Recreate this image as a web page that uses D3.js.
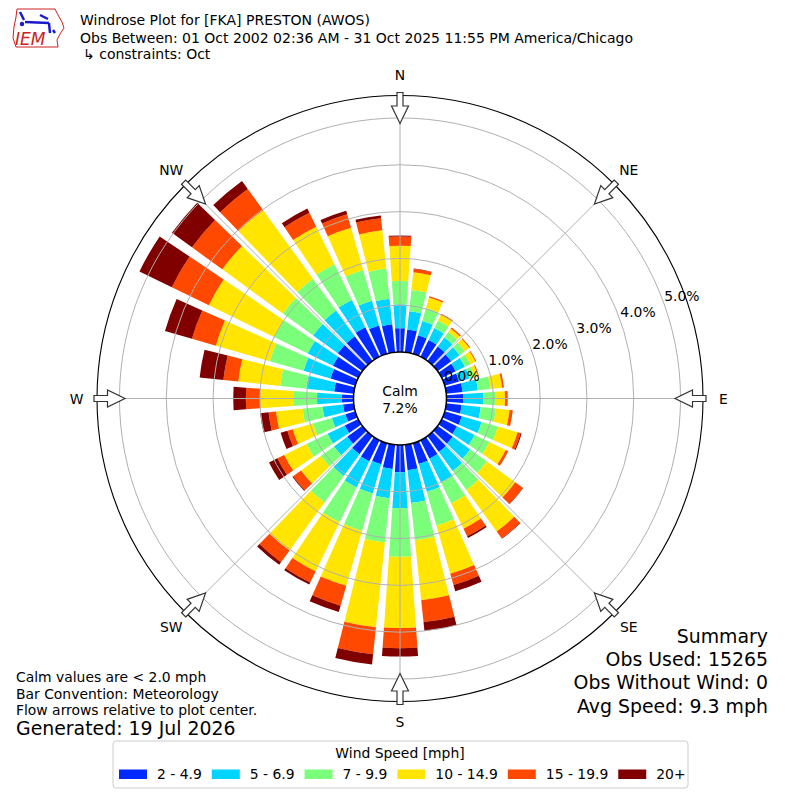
<!DOCTYPE html>
<html><head><meta charset="utf-8">
<script src="https://cdn.jsdelivr.net/npm/d3@7"></script>
<style>body{margin:0;background:#fff} svg{display:block} text{font-family:"DejaVu Sans",sans-serif}</style>
</head><body><svg id="c" width="800" height="800"></svg>
<script>
// ---- data (percent of observations per direction / speed bin) ----
const directions = d3.range(0, 360, 10);
const speedBins = ["2 - 4.9", "5 - 6.9", "7 - 9.9", "10 - 14.9", "15 - 19.9", "20+"];
const binColors = ["#002aff", "#00d4ff", "#7bff7b", "#ffe500", "#ff4900", "#800000"];
const pct2to5   = [0.51,0.49,0.41,0.40,0.38,0.36,0.33,0.32,0.35,0.36,0.33,0.38,0.36,0.40,0.42,0.44,0.46,0.55,0.58,0.52,0.47,0.50,0.48,0.40,0.32,0.22,0.23,0.25,0.42,0.55,0.60,0.65,0.65,0.70,0.63,0.60];
const pct5to7   = [0.51,0.39,0.32,0.28,0.24,0.22,0.22,0.23,0.33,0.43,0.41,0.44,0.42,0.46,0.50,0.56,0.62,0.70,0.77,0.63,0.65,0.62,0.57,0.35,0.41,0.30,0.44,0.53,0.60,0.60,0.60,0.65,0.68,0.65,0.55,0.55];
const pct7to10  = [0.50,0.46,0.29,0.18,0.14,0.14,0.13,0.11,0.27,0.25,0.33,0.36,0.35,0.44,0.50,0.50,0.75,0.80,1.04,0.95,0.83,0.83,0.70,0.35,0.50,0.42,0.43,0.51,0.56,0.75,0.80,0.80,0.84,0.85,0.68,0.65];
const pct10to15 = [0.75,0.38,0.23,0.14,0.09,0.12,0.12,0.08,0.25,0.21,0.29,0.44,0.39,0.75,1.10,0.60,1.07,1.29,1.52,1.82,1.22,1.17,1.27,0.52,0.53,0.45,0.57,0.71,0.90,1.20,1.55,1.60,1.81,0.89,0.94,0.82];
const pct15to20 = [0.20,0.07,0.03,0.02,0.03,0.02,0.02,0.02,0.04,0.06,0.07,0.07,0.06,0.20,0.18,0.18,0.25,0.47,0.43,0.58,0.44,0.26,0.31,0.21,0.16,0.12,0.16,0.30,0.32,0.53,0.88,0.80,0.56,0.33,0.30,0.26];
const pct20plus = [0.02,0.01,0.00,0.00,0.00,0.00,0.00,0.00,0.00,0.00,0.00,0.02,0.00,0.01,0.01,0.04,0.14,0.19,0.18,0.22,0.14,0.05,0.07,0.02,0.20,0.15,0.18,0.27,0.51,0.60,0.77,0.53,0.21,0.10,0.08,0.06];
const ringTicks = [0, 1, 2, 3, 4, 5];
const compass = [["N",0],["NE",45],["E",90],["SE",135],["S",180],["SW",225],["W",270],["NW",315]];
const calmPct = "7.2%";
const titleLines = ["Windrose Plot for [FKA] PRESTON (AWOS)",
  "Obs Between: 01 Oct 2002 02:36 AM - 31 Oct 2025 11:55 PM America/Chicago",
  "\u21b3 constraints: Oct"];
const noteLines = ["Calm values are < 2.0 mph", "Bar Convention: Meteorology", "Flow arrows relative to plot center."];
const generated = "Generated: 19 Jul 2026";
const summaryLines = ["Summary", "Obs Used: 15265", "Obs Without Wind: 0", "Avg Speed: 9.3 mph"];

// ---- layout ----
const svg = d3.select("#c");
const cx = 400, cy = 398.5;
const r = d3.scaleLinear().domain([0, 5.48]).range([46.5, 303]);
const rad = d => d * Math.PI / 180;
const g = svg.append("g").attr("transform", `translate(${cx},${cy})`);

const rows = directions.map((d, i) => ({dir: d, b0: pct2to5[i], b1: pct5to7[i], b2: pct7to10[i], b3: pct10to15[i], b4: pct15to20[i], b5: pct20plus[i]}));
const keys = ["b0","b1","b2","b3","b4","b5"];
const series = d3.stack().keys(keys)(rows);
const half = 4;
const arc = d3.arc()
  .innerRadius(d => r(d[0])).outerRadius(d => r(d[1]))
  .startAngle(d => rad(d.data.dir - half)).endAngle(d => rad(d.data.dir + half));

g.selectAll("g.ser").data(series).join("g").attr("fill", (s, i) => binColors[i])
  .selectAll("path").data(s => s.filter(d => d[1] - d[0] > 0)).join("path").attr("d", arc);

// grid (drawn over bars)
g.selectAll("circle.ring").data(ringTicks.slice(1)).join("circle")
  .attr("r", d => r(d)).attr("fill", "none").attr("stroke", "#b0b0b0").attr("stroke-width", 1);
g.selectAll("line.spoke").data(compass).join("line")
  .attr("x1", 0).attr("y1", 0)
  .attr("x2", d => r(5.48) * Math.sin(rad(d[1]))).attr("y2", d => -r(5.48) * Math.cos(rad(d[1])))
  .attr("stroke", "#b0b0b0").attr("stroke-width", 1);
g.append("circle").attr("r", r(5.48)).attr("fill", "none").attr("stroke", "#000").attr("stroke-width", 1.1);

// calm circle
g.append("circle").attr("r", r(0)).attr("fill", "#fff").attr("stroke", "#000").attr("stroke-width", 1.5);
g.append("text").attr("x", 0).attr("y", -3).attr("text-anchor", "middle").attr("font-size", 13.9).text("Calm");
g.append("text").attr("x", 0).attr("y", 14).attr("text-anchor", "middle").attr("font-size", 13.9).text(calmPct);

// ring labels
const la = rad(70);
g.selectAll("text.rl").data(ringTicks).join("text")
  .attr("x", d => (r(d) + 19.5) * Math.sin(la)).attr("y", d => -(r(d) + 19.5) * Math.cos(la))
  .attr("dy", "0.36em").attr("text-anchor", "middle").attr("font-size", 13.9)
  .text(d => d.toFixed(1) + "%");

// compass labels
g.selectAll("text.cl").data(compass).join("text")
  .attr("x", d => 323.5 * Math.sin(rad(d[1]))).attr("y", d => -323.5 * Math.cos(rad(d[1])))
  .attr("dy", "0.36em").attr("text-anchor", "middle").attr("font-size", 13.9).text(d => d[0]);

// flow arrows
const arrowPts = [[306,-3],[292.5,-3],[292.5,-8.5],[275,0],[292.5,8.5],[292.5,3],[306,3]];
g.selectAll("polygon.arr").data(compass).join("polygon")
  .attr("points", d => {
    const t = rad(d[1]);
    return arrowPts.map(([p, w]) => [p * Math.sin(t) + w * Math.cos(t), -p * Math.cos(t) + w * Math.sin(t)].join(",")).join(" ");
  })
  .attr("fill", "#fff").attr("stroke", "#333").attr("stroke-width", 1.2).attr("stroke-linejoin", "miter");

// titles
svg.selectAll("text.tt").data(titleLines).join("text")
  .attr("x", (d, i) => i === 2 ? 83 : 80).attr("y", (d, i) => [25, 43, 59][i])
  .attr("font-size", 14).attr("fill", "#000").text(d => d);

// notes
svg.selectAll("text.nt").data(noteLines).join("text")
  .attr("x", 16).attr("y", (d, i) => 681.8 + i * 16.7).attr("font-size", 13.9).text(d => d);
svg.append("text").attr("x", 16).attr("y", 735).attr("font-size", 18.9).text(generated);

// summary
svg.selectAll("text.sm").data(summaryLines).join("text")
  .attr("x", 768).attr("y", (d, i) => 642.5 + i * 23.4).attr("text-anchor", "end")
  .attr("font-size", 18.9).text(d => d);

// legend
const lg = svg.append("g");
lg.append("rect").attr("x", 113).attr("y", 741).attr("width", 575).attr("height", 47).attr("rx", 3)
  .attr("fill", "#fff").attr("stroke", "#cccccc").attr("stroke-width", 1);
lg.append("text").attr("x", 400).attr("y", 758).attr("text-anchor", "middle").attr("font-size", 13.9).text("Wind Speed [mph]");
let lx = 119;
speedBins.forEach((lab, i) => {
  lg.append("rect").attr("x", lx).attr("y", 769.5).attr("width", 28).attr("height", 9.5).attr("fill", binColors[i]);
  const t = lg.append("text").attr("x", lx + 38).attr("y", 779).attr("font-size", 13.9).text(lab);
  lx = lx + 38 + t.node().getComputedTextLength() + 10;
});

// IEM logo (simplified)
const logo = svg.append("g");
logo.append("path").attr("d", "M17,9 L55,9 L58,15 L62,22 L64,28 L60,34 L57,40 L58,47 L16,47 L13,38 L14,27 L16,17 Z")
  .attr("fill", "none").attr("stroke", "#cc2222").attr("stroke-width", 1);
logo.append("path").attr("d", "M25,22 L49,23").attr("stroke", "#1a1acc").attr("stroke-width", 2.5);
logo.append("path").attr("d", "M20,12 L24,20 M40,15 L48,19 M49,23 L50,33 M53,30 L55,33").attr("stroke", "#1a1acc").attr("stroke-width", 2.5).attr("fill", "none");
logo.append("circle").attr("cx", 22).attr("cy", 24).attr("r", 2.2).attr("fill", "#1a1acc");
logo.append("text").attr("x", 15).attr("y", 45).attr("font-family", "Liberation Serif").attr("font-style", "italic")
  .attr("font-size", 17).attr("fill", "#cc2222").text("IEM");
</script></body></html>
